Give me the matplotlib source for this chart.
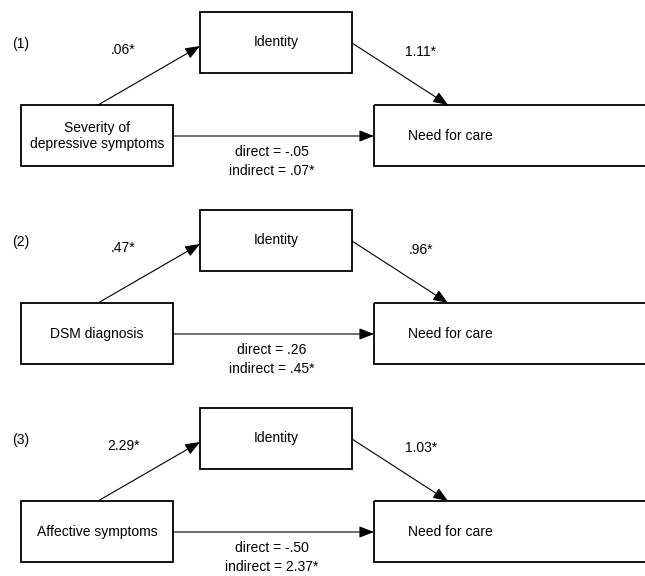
import matplotlib.pyplot as plt
from matplotlib.patches import Rectangle

plt.rcParams['font.family'] = ['Liberation Sans', 'DejaVu Sans']

# Model data, one entry per panel
panel_labels = ['(1)', '(2)', '(3)']
predictors = ['Severity of\ndepressive symptoms', 'DSM diagnosis', 'Affective symptoms']
mediator = 'Identity'
outcome = 'Need for care'
a_paths = ['.06*', '.47*', '2.29*']
b_paths = ['1.11*', '.96*', '1.03*']
direct = ['-.05', '.26', '-.50']
indirect = ['.07*', '.45*', '2.37*']

fig = plt.figure(figsize=(6.45, 5.76), dpi=100)
ax = fig.add_axes([0, 0, 1, 1])
ax.set_xlim(0, 645)
ax.set_ylim(576, 0)
ax.axis('off')

fs = 10
arrow_kw = dict(arrowstyle='-|>,head_length=0.9,head_width=0.35', color='black',
                lw=0.8, shrinkA=0, shrinkB=0, mutation_scale=10)


def box(x0, y0, x1, y1):
    ax.add_patch(Rectangle((x0, y0), x1 - x0, y1 - y0, fill=False,
                           edgecolor='black', lw=1.3, clip_on=True))


for i in range(len(predictors)):
    top = 12 + i * 198

    # boxes
    box(200, top, 352, top + 61)
    box(21, top + 93, 173, top + 154)
    box(374, top + 93, 660, top + 154)

    ax.text(276, top + 30, mediator, ha='center', va='center', fontsize=fs)
    ax.text(97, top + 124, predictors[i], ha='center', va='center', fontsize=fs,
            linespacing=1.25)
    ax.text(450, top + 124, outcome, ha='center', va='center', fontsize=fs)

    # arrows
    ax.annotate('', xy=(200, top + 34), xytext=(98, top + 93), arrowprops=arrow_kw)
    ax.annotate('', xy=(448, top + 93), xytext=(352, top + 31), arrowprops=arrow_kw)
    ax.annotate('', xy=(374, top + 124), xytext=(173, top + 124), arrowprops=arrow_kw)

    # labels
    ax.text(12, top + 32, panel_labels[i], ha='left', va='center', fontsize=fs)
    ax.text(123, top + 38, a_paths[i], ha='center', va='center', fontsize=fs)
    ax.text(421, top + 40, b_paths[i], ha='center', va='center', fontsize=fs)
    ax.text(272, top + 140, 'direct = ' + direct[i], ha='center', va='center', fontsize=fs)
    ax.text(272, top + 159, 'indirect = ' + indirect[i], ha='center', va='center', fontsize=fs)

fig.savefig('out.png', dpi=100, facecolor='white')
